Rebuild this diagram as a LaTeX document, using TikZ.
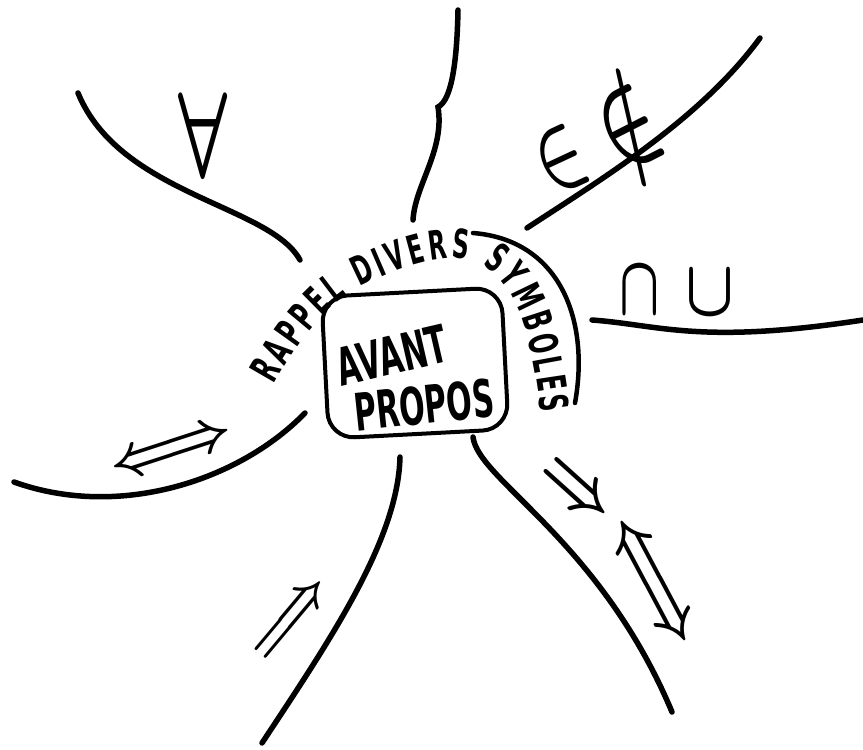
\RequirePackage{fix-cm}
\documentclass[tikz,border=0pt]{standalone}
\usepackage{fontspec}
\usepackage{graphicx}
\usetikzlibrary{decorations.text}
\newfontfamily\hand[FakeStretch=0.58]{DejaVu Sans}
\begin{document}
\begin{tikzpicture}[x=1pt,y=-1pt,
  branch/.style={line width=5.5pt, line cap=round, draw=black},
  box/.style={draw, line width=4pt, rounded corners=26pt, minimum width=180pt, minimum height=142pt, inner sep=0pt},
  lbl/.style={inner sep=0pt, font=\hand\bfseries\fontsize{52}{56}\selectfont},
  sym/.style={inner sep=0pt, font=\mathversion{bold}}]
\fill[white] (0,0) rectangle (863,750);
\useasboundingbox (0,0) rectangle (863,750);

% end points of the branches
\coordinate (ul-in) at (300,260);  \coordinate (ul-out) at (78,93);
\coordinate (t-in) at (413,220);   \coordinate (t-k) at (438,107);  \coordinate (t-out) at (458,10);
\coordinate (ur-in) at (527,228);  \coordinate (ur-out) at (760,38);
\coordinate (r-in) at (592,320);   \coordinate (r-out) at (863,320);
\coordinate (l-in) at (305,413);   \coordinate (l-out) at (14,482);
\coordinate (b-in) at (400,457);   \coordinate (b-out) at (262,743);
\coordinate (lr-in) at (473,437);  \coordinate (lr-out) at (672,712);
\coordinate (br-a) at (473,233);   \coordinate (br-b) at (575,403);
\coordinate (arcA) at (274,385);   \coordinate (arcB) at (362,286);
\coordinate (arcC) at (455,258);   \coordinate (arcD) at (541,413);

% branches
\draw[branch] (ul-in) .. controls (270,205) and (120,195) .. (ul-out);
\draw[branch] (t-in) .. controls (415,185) and (445,150) .. (t-k)
              .. controls (452,100) and (457,60) .. (t-out);
\draw[branch] (ur-in) .. controls (600,180) and (700,120) .. (ur-out);
\draw[branch] (r-in) .. controls (660,325) and (700,345) .. (r-out);
\draw[branch] (l-in) .. controls (240,480) and (120,520) .. (l-out);
\draw[branch] (b-in) .. controls (398,540) and (330,640) .. (b-out);
\draw[branch] (lr-in) .. controls (478,480) and (600,540) .. (lr-out);

% centre
\node[box, rotate=3] (ap) at (415,363) {};
\node[lbl, rotate=13] (avant) at (392,355) {AVANT};
\node[lbl, rotate=6] (propos) at (424,405) {PROPOS};

% curved title
\path[decorate, decoration={text along path, text align={fit to path},
   text={|\hand\bfseries\fontsize{40}{44}\selectfont|RAPPEL DIVERS SYMBOLES}}]
   (arcA) .. controls (302,335) and (330,300) .. (arcB)
   .. controls (395,270) and (425,258) .. (arcC)
   .. controls (520,260) and (533,350) .. (arcD);
\draw[line width=4.5pt, line cap=round] (br-a) .. controls (560,240) and (590,320) .. (br-b);

% symbols
\node[sym] (forall) at (203,135) {\fontsize{122}{130}\selectfont\scalebox{0.63}[1]{$\forall$}};
\node[sym, rotate=25] (in) at (561,160) {\fontsize{95}{100}\selectfont\scalebox{0.65}[1]{$\in$}};
\node[sym, rotate=27] (notin) at (625,120) {\fontsize{118}{124}\selectfont\scalebox{0.62}[1]{$\notin$}};
\node[sym] (cap) at (640,291) {\fontsize{85}{90}\selectfont\scalebox{0.62}[1]{$\cap$}};
\node[sym] (cup) at (710,293) {\fontsize{80}{90}\selectfont\scalebox{0.8}[1]{$\cup$}};
\node[sym, rotate=18] (equivl) at (172,452) {\fontsize{60}{64}\selectfont$\Longleftrightarrow$};
\node[sym, rotate=50] (implb) at (293,620) {\fontsize{55}{60}\selectfont$\Longrightarrow$};
\node[sym, rotate=-42] (implr) at (575,492) {\fontsize{72}{76}\selectfont$\Rightarrow$};
\node[sym, rotate=-62] (equivr) at (650,583) {\fontsize{68}{72}\selectfont$\Longleftrightarrow$};
\end{tikzpicture}
\end{document}
